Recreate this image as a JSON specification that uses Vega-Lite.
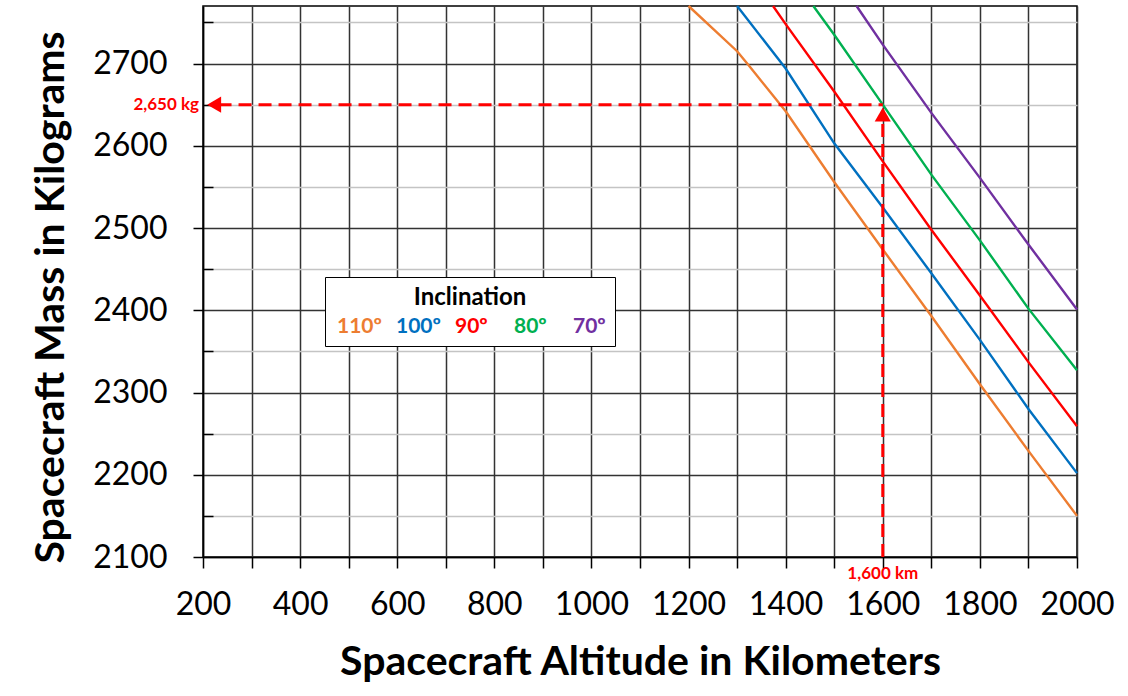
{
  "$schema": "https://vega.github.io/schema/vega-lite/v6.json",
  "width": 874,
  "height": 551,
  "autosize": "none",
  "padding": {"left": 203, "top": 6, "right": 51, "bottom": 139},
  "background": "white",
  "config": {"view": {"stroke": "black", "strokeWidth": 1.5}, "font": "Lato"},
  "datasets": {
    "curves": [
      {"alt": 1200, "mass": 2770, "inc": "110º"},
      {"alt": 1300, "mass": 2715, "inc": "110º"},
      {"alt": 1325, "mass": 2697, "inc": "110º"},
      {"alt": 1400, "mass": 2642, "inc": "110º"},
      {"alt": 1500, "mass": 2556, "inc": "110º"},
      {"alt": 1600, "mass": 2474, "inc": "110º"},
      {"alt": 1700, "mass": 2393, "inc": "110º"},
      {"alt": 1800, "mass": 2310, "inc": "110º"},
      {"alt": 1900, "mass": 2229, "inc": "110º"},
      {"alt": 2000, "mass": 2150, "inc": "110º"},
      {"alt": 1300, "mass": 2770, "inc": "100º"},
      {"alt": 1400, "mass": 2694, "inc": "100º"},
      {"alt": 1500, "mass": 2603, "inc": "100º"},
      {"alt": 1600, "mass": 2525, "inc": "100º"},
      {"alt": 1700, "mass": 2445, "inc": "100º"},
      {"alt": 1800, "mass": 2364, "inc": "100º"},
      {"alt": 1900, "mass": 2280, "inc": "100º"},
      {"alt": 2000, "mass": 2202, "inc": "100º"},
      {"alt": 1374, "mass": 2770, "inc": "90º"},
      {"alt": 1400, "mass": 2748, "inc": "90º"},
      {"alt": 1500, "mass": 2666, "inc": "90º"},
      {"alt": 1600, "mass": 2581, "inc": "90º"},
      {"alt": 1700, "mass": 2498, "inc": "90º"},
      {"alt": 1800, "mass": 2418, "inc": "90º"},
      {"alt": 1900, "mass": 2337, "inc": "90º"},
      {"alt": 2000, "mass": 2259, "inc": "90º"},
      {"alt": 1457, "mass": 2770, "inc": "80º"},
      {"alt": 1500, "mass": 2735, "inc": "80º"},
      {"alt": 1600, "mass": 2650, "inc": "80º"},
      {"alt": 1700, "mass": 2565, "inc": "80º"},
      {"alt": 1800, "mass": 2485, "inc": "80º"},
      {"alt": 1900, "mass": 2402, "inc": "80º"},
      {"alt": 2000, "mass": 2327, "inc": "80º"},
      {"alt": 1546, "mass": 2770, "inc": "70º"},
      {"alt": 1600, "mass": 2723, "inc": "70º"},
      {"alt": 1700, "mass": 2640, "inc": "70º"},
      {"alt": 1800, "mass": 2561, "inc": "70º"},
      {"alt": 1900, "mass": 2480, "inc": "70º"},
      {"alt": 2000, "mass": 2401, "inc": "70º"}
    ]
  },
  "layer": [
    {
      "data": {"name": "curves"},
      "mark": {"type": "line", "strokeWidth": 2.4},
      "encoding": {
        "x": {
          "field": "alt", "type": "quantitative",
          "scale": {"domain": [200, 2000], "nice": false, "zero": false},
          "axis": {
            "title": "Spacecraft Altitude in Kilometers",
            "values": [200,250,300,350,400,450,500,550,600,650,700,750,800,850,900,950,1000,1050,1100,1150,1200,1250,1300,1350,1400,1450,1500,1550,1600,1650,1700,1750,1800,1850,1900,1950,2000],
            "format": "d",
            "labelExpr": "datum.value % 200 === 0 ? datum.label : ''",
            "grid": true,
            "gridColor": {"condition": {"test": "datum.value % 100 === 0", "value": "#333333"}, "value": "#c4c4c4"},
            "gridWidth": 1.5,
            "tickColor": "black",
            "tickWidth": 1.5,
            "tickSize": {"condition": {"test": "datum.value % 100 === 0", "value": 11}, "value": -10},
            "domainColor": "black",
            "domainWidth": 1.5,
            "labelFont": "Lato",
            "labelFontSize": 32,
            "labelColor": "black",
            "labelPadding": 21,
            "labelFlush": false,
            "labelOverlap": false,
            "titleFont": "Lato",
            "titleFontSize": 41,
            "titleFontWeight": "bold",
            "titleColor": "black",
            "titlePadding": 22
          }
        },
        "y": {
          "field": "mass", "type": "quantitative",
          "scale": {"domain": [2100, 2770], "nice": false, "zero": false},
          "axis": {
            "title": "Spacecraft Mass in Kilograms",
            "titleY": 291,
            "values": [2100,2125,2150,2175,2200,2225,2250,2275,2300,2325,2350,2375,2400,2425,2450,2475,2500,2525,2550,2575,2600,2625,2650,2675,2700,2725,2750],
            "format": "d",
            "labelExpr": "datum.value % 100 === 0 ? datum.label : ''",
            "grid": true,
            "gridColor": {"condition": {"test": "datum.value % 100 === 0", "value": "#333333"}, "value": "#c4c4c4"},
            "gridWidth": 1.5,
            "tickColor": "black",
            "tickWidth": 1.5,
            "tickSize": {"condition": {"test": "datum.value % 100 === 0", "value": 10}, "value": -10},
            "domainColor": "black",
            "domainWidth": 1.5,
            "labelFont": "Lato",
            "labelFontSize": 32,
            "labelColor": "black",
            "labelPadding": 26,
            "labelFlush": false,
            "labelOverlap": false,
            "titleFont": "Lato",
            "titleFontSize": 41,
            "titleFontWeight": "bold",
            "titleColor": "black",
            "titlePadding": 20
          }
        },
        "color": {
          "field": "inc", "type": "nominal",
          "scale": {"domain": ["110º", "100º", "90º", "80º", "70º"], "range": ["#ED7D31", "#0070C0", "#FF0000", "#00B050", "#7030A0"]},
          "legend": {
            "orient": "none",
            "legendX": 122,
            "legendY": 271,
            "direction": "horizontal",
            "title": "Inclination",
            "titleAnchor": "middle",
            "titleFont": "Lato",
            "titleFontSize": 24,
            "titleFontWeight": "bold",
            "titleColor": "black",
            "titlePadding": 6,
            "labelFont": "Lato",
            "labelFontSize": 21,
            "labelFontWeight": "bold",
            "labelColor": {"expr": "scale('color', datum.value)"},
            "labelOffset": -18,
            "symbolSize": 0,
            "symbolOpacity": 0,
            "symbolStrokeWidth": 0,
            "gridAlign": "all",
            "columnPadding": 11,
            "fillColor": "white",
            "strokeColor": "black",
            "padding": 9
          }
        }
      }
    },
    {
      "data": {"values": [{"x": 232, "x2": 1600, "y": 2650}]},
      "mark": {"type": "rule", "color": "#FF0000", "strokeWidth": 3, "strokeDash": [13, 7]},
      "encoding": {
        "x": {"field": "x", "type": "quantitative"},
        "x2": {"field": "x2"},
        "y": {"field": "y", "type": "quantitative"}
      }
    },
    {
      "data": {"values": [{"x": 1600, "y": 2100, "y2": 2630}]},
      "mark": {"type": "rule", "color": "#FF0000", "strokeWidth": 3, "strokeDash": [13, 7]},
      "encoding": {
        "x": {"field": "x", "type": "quantitative"},
        "y": {"field": "y", "type": "quantitative"},
        "y2": {"field": "y2"}
      }
    },
    {
      "data": {"values": [{"x": 223, "y": 2650}]},
      "mark": {"type": "point", "shape": "triangle-left", "filled": true, "color": "#FF0000", "size": 260, "opacity": 1},
      "encoding": {
        "x": {"field": "x", "type": "quantitative"},
        "y": {"field": "y", "type": "quantitative"}
      }
    },
    {
      "data": {"values": [{"x": 1600, "y": 2638}]},
      "mark": {"type": "point", "shape": "triangle-up", "filled": true, "color": "#FF0000", "size": 260, "opacity": 1},
      "encoding": {
        "x": {"field": "x", "type": "quantitative"},
        "y": {"field": "y", "type": "quantitative"}
      }
    },
    {
      "data": {"values": [{"x": 200, "y": 2650, "label": "2,650 kg"}]},
      "mark": {"type": "text", "align": "right", "baseline": "middle", "dx": -4, "color": "#FF0000", "font": "Lato", "fontWeight": "bold", "fontSize": 17},
      "encoding": {
        "x": {"field": "x", "type": "quantitative"},
        "y": {"field": "y", "type": "quantitative"},
        "text": {"field": "label"}
      }
    },
    {
      "data": {"values": [{"x": 1600, "y": 2100, "label": "1,600 km"}]},
      "mark": {"type": "text", "align": "center", "baseline": "middle", "dy": 17, "color": "#FF0000", "font": "Lato", "fontWeight": "bold", "fontSize": 17},
      "encoding": {
        "x": {"field": "x", "type": "quantitative"},
        "y": {"field": "y", "type": "quantitative"},
        "text": {"field": "label"}
      }
    }
  ]
}
